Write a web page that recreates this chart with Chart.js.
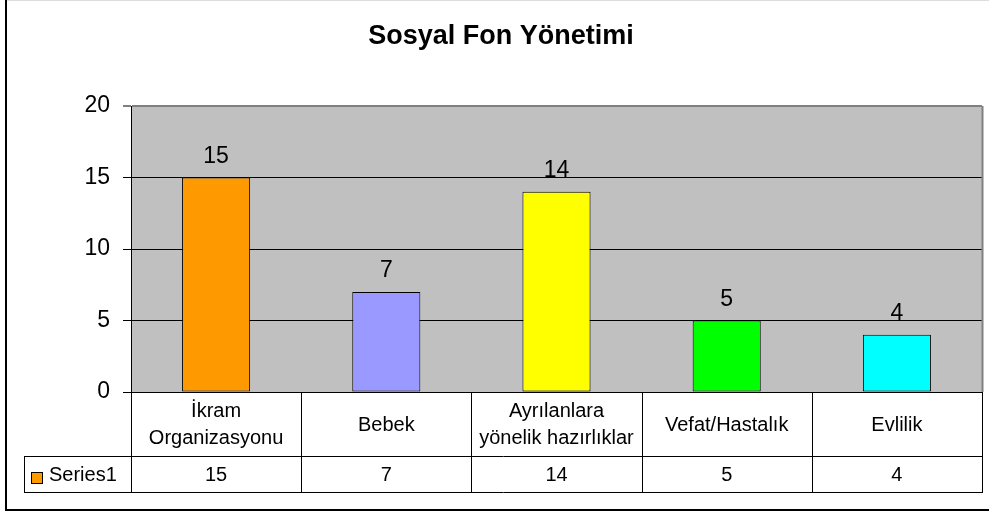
<!DOCTYPE html>
<html>
<head>
<meta charset="utf-8">
<script src="https://cdn.jsdelivr.net/npm/chart.js@4"></script>
<style>
  body { margin: 0; background: #fff; }
  #wrap { width: 989px; height: 514px; }
</style>
</head>
<body>
<div id="wrap"><canvas id="fonChart" width="989" height="514"></canvas></div>
<script>
// chart data
const chartTitle = 'Sosyal Fon Yönetimi';
const categories = [['İkram', 'Organizasyonu'], 'Bebek', ['Ayrılanlara', 'yönelik hazırlıklar'], 'Vefat/Hastalık', 'Evlilik'];
const seriesName = 'Series1';
const values = [15, 7, 14, 5, 4];
const yTicks = [0, 5, 10, 15, 20];
const barColors = ['#FF9900', '#9999FF', '#FFFF00', '#00FF00', '#00FFFF'];

const FONT = '"Liberation Sans", Arial, sans-serif';

// gray plot area + outer frame + title
const backdrop = {
    id: 'backdrop',
    beforeDraw(chart) {
        const c = chart.ctx, a = chart.chartArea;
        c.save();
        c.fillStyle = '#fff';
        c.fillRect(0, 0, chart.width, chart.height);
        c.fillStyle = '#C0C0C0';
        c.fillRect(a.left, a.top, a.right - a.left, a.bottom - a.top);
        // frame
        c.strokeStyle = '#ddd';
        c.lineWidth = 1;
        c.beginPath(); c.moveTo(5, 0.5); c.lineTo(chart.width, 0.5); c.stroke();
        c.strokeStyle = '#000';
        c.lineWidth = 2;
        c.beginPath();
        c.moveTo(6, 0); c.lineTo(6, 510); c.lineTo(chart.width, 510);
        c.stroke();
        // title
        c.fillStyle = '#000';
        c.font = 'bold 27px ' + FONT;
        c.textAlign = 'center';
        c.textBaseline = 'alphabetic';
        c.fillText(chartTitle, 501, 44);
        c.restore();
    }
};

// value labels above bars
const barLabels = {
    id: 'barLabels',
    afterDatasetsDraw(chart) {
        const c = chart.ctx;
        const meta = chart.getDatasetMeta(0);
        c.save();
        c.fillStyle = '#000';
        c.font = '23px ' + FONT;
        c.textAlign = 'center';
        c.textBaseline = 'alphabetic';
        meta.data.forEach((bar, i) => {
            c.fillText(String(values[i]), bar.x, bar.y - 15);
        });
        c.restore();
    }
};

// data table under the plot
const dataTable = {
    id: 'dataTable',
    afterDraw(chart) {
        const c = chart.ctx, a = chart.chartArea;
        const x = chart.scales.x;
        const n = categories.length;
        const cw = (a.right - a.left) / n;
        const rowTop = a.bottom, rowMid = 456, rowBot = 492;
        const keyLeft = 24;
        c.save();
        // right border of plot
        c.strokeStyle = '#808080';
        c.lineWidth = 2;
        c.beginPath(); c.moveTo(a.right + 0.5, a.top); c.lineTo(a.right + 0.5, a.bottom); c.stroke();

        c.strokeStyle = '#000';
        c.lineWidth = 1;
        c.beginPath();
        c.moveTo(a.left, rowTop + 0.5); c.lineTo(a.right + 1, rowTop + 0.5);
        c.moveTo(keyLeft, rowMid + 0.5); c.lineTo(a.right + 1, rowMid + 0.5);
        c.moveTo(keyLeft, rowBot + 0.5); c.lineTo(a.right + 1, rowBot + 0.5);
        c.moveTo(keyLeft + 0.5, rowMid); c.lineTo(keyLeft + 0.5, rowBot);
        for (let i = 0; i <= n; i++) {
            const px = Math.round(a.left + i * cw) + 0.5;
            c.moveTo(px, rowTop); c.lineTo(px, rowBot + 1);
        }
        c.stroke();

        c.fillStyle = '#000';
        c.font = '20px ' + FONT;
        c.textAlign = 'center';
        c.textBaseline = 'middle';
        categories.forEach((label, i) => {
            const cx = x.getPixelForValue(i);
            const lines = Array.isArray(label) ? label : [label];
            const lh = 27;
            const startY = (rowTop + rowMid) / 2 - (lines.length - 1) * lh / 2 + 1;
            lines.forEach((t, j) => c.fillText(t, cx, startY + j * lh));
            c.fillText(String(values[i]), cx, (rowMid + rowBot) / 2 + 1);
        });
        // legend key
        c.fillStyle = barColors[0];
        c.fillRect(31.5, 472.5, 11, 11);
        c.strokeRect(31.5, 472.5, 11, 11);
        c.fillStyle = '#000';
        c.textAlign = 'left';
        c.fillText(seriesName, 49, (rowMid + rowBot) / 2 + 1);
        c.restore();
    }
};

new Chart(document.getElementById('fonChart'), {
    type: 'bar',
    data: {
        labels: categories,
        datasets: [{
            label: seriesName,
            data: values,
            backgroundColor: barColors,
            borderColor: '#000',
            borderWidth: 1,
            borderSkipped: false,
            barPercentage: 0.4,
            categoryPercentage: 1.0
        }]
    },
    options: {
        responsive: false,
        animation: false,
        layout: { padding: { left: 0, top: 106, right: 7, bottom: 122 } },
        plugins: {
            legend: { display: false },
            title: { display: false },
            tooltip: { enabled: false }
        },
        scales: {
            x: {
                display: false,
                offset: true
            },
            y: {
                min: yTicks[0],
                max: yTicks[yTicks.length - 1],
                afterFit: s => { s.width = 131; },
                afterBuildTicks: s => { s.ticks = yTicks.map(v => ({ value: v })); },
                ticks: {
                    color: '#000',
                    padding: 13,
                    font: { family: FONT, size: 23 }
                },
                grid: {
                    color: ctx => ctx.tick && ctx.tick.value === yTicks[yTicks.length - 1] ? '#808080' : '#000',
                    lineWidth: ctx => ctx.tick && ctx.tick.value === yTicks[yTicks.length - 1] ? 2 : 1,
                    tickColor: '#000',
                    tickLength: 8,
                    tickWidth: 1
                },
                border: { display: true, color: '#000', width: 1 }
            }
        }
    },
    plugins: [backdrop, barLabels, dataTable]
});
</script>
</body>
</html>
